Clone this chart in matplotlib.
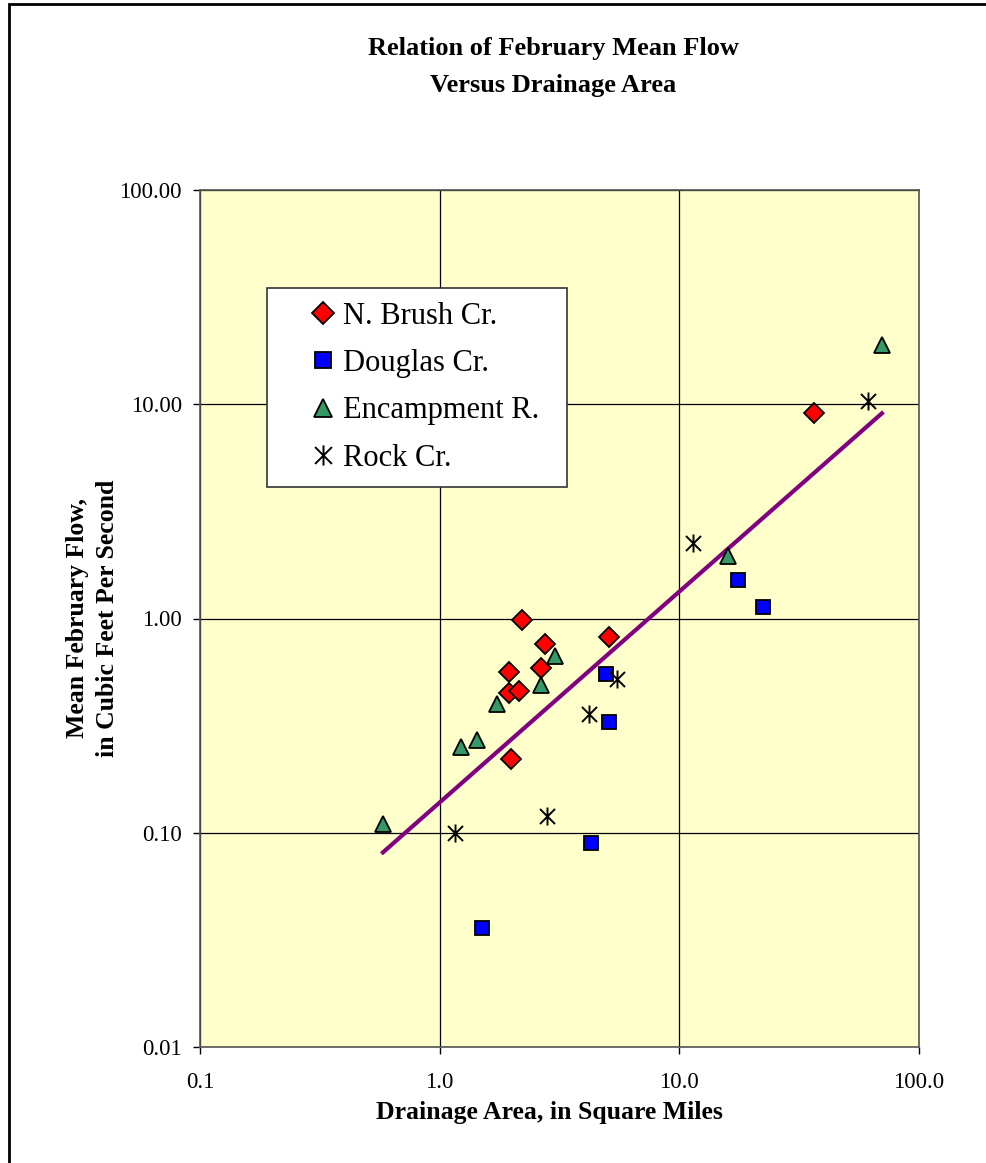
import matplotlib.pyplot as plt
from matplotlib.path import Path
from matplotlib.patches import Rectangle

plt.rcParams['font.family'] = ['Liberation Serif', 'DejaVu Serif']

# data (drainage area sq mi, mean Feb flow cfs)
brush_x = [2.2, 5.1, 2.75, 1.95, 2.65, 1.95, 2.15, 1.98, 36.5]
brush_y = [0.98, 0.82, 0.76, 0.56, 0.585, 0.45, 0.46, 0.22, 9.1]

douglas_x = [4.93, 5.1, 4.3, 1.5, 17.5, 22.4]
douglas_y = [0.55, 0.33, 0.09, 0.036, 1.52, 1.13]

encamp_x = [3.03, 2.65, 1.73, 1.43, 1.23, 0.58, 70.0, 16.0]
encamp_y = [0.67, 0.49, 0.40, 0.27, 0.25, 0.11, 19.0, 1.96]

rock_x = [5.5, 4.2, 2.8, 1.16, 11.4, 61.0]
rock_y = [0.52, 0.36, 0.12, 0.10, 2.26, 10.4]

trend_x = [0.58, 70.0]
trend_y = [0.081, 9.07]

x_ticks = [0.1, 1, 10, 100]
x_labels = ["0.1", "1.0", "10.0", "100.0"]
y_ticks = [0.01, 0.1, 1, 10, 100]
y_labels = ["0.01", "0.10", "1.00", "10.00", "100.00"]

fig = plt.figure(figsize=(9.87, 11.63), dpi=100)
ax = fig.add_axes([200 / 987, 1 - 1047 / 1163, 719 / 987, 857 / 1163])
ax.set_facecolor("#FFFFCC")

# outer frame (only left and top edges are visible in the original)
fig.patches.append(Rectangle((9 / 987, -0.05), 1.2, 1 - 4 / 1163 + 0.05,
                             transform=fig.transFigure, fill=False,
                             edgecolor="black", linewidth=2))

star = Path([(-1, -1), (1, 1), (-1, 1), (1, -1), (0, -1.2), (0, 1.2)],
            [Path.MOVETO, Path.LINETO, Path.MOVETO, Path.LINETO,
             Path.MOVETO, Path.LINETO])

ax.plot(trend_x, trend_y, color="#800080", linewidth=3, zorder=2)
ax.plot(brush_x, brush_y, linestyle="none", marker="D", ms=10,
        mfc="red", mec="black", mew=1.3, label="N. Brush Cr.", zorder=3)
ax.plot(douglas_x, douglas_y, linestyle="none", marker="s", ms=10.5,
        mfc="blue", mec="black", mew=1.3, label="Douglas Cr.", zorder=3)
ax.plot(encamp_x, encamp_y, linestyle="none", marker="^", ms=12,
        mfc="#339966", mec="black", mew=1.3, label="Encampment R.", zorder=3)
ax.plot(rock_x, rock_y, linestyle="none", marker=star, ms=13,
        mfc="none", mec="black", mew=1.4, label="Rock Cr.", zorder=3)

ax.set_xscale("log")
ax.set_yscale("log")
ax.set_xlim(0.1, 100)
ax.set_ylim(0.01, 100)
ax.set_xticks(x_ticks)
ax.set_xticklabels(x_labels)
ax.set_yticks(y_ticks)
ax.set_yticklabels(y_labels)
ax.minorticks_off()
ax.tick_params(direction="out", length=5, width=1, labelsize=16.5)
ax.tick_params(axis="x", pad=13)
ax.tick_params(axis="y", pad=8)
ax.grid(True, color="black", linewidth=0.9)
ax.set_axisbelow(True)
for s in ax.spines.values():
    s.set_color("#555555")
    s.set_linewidth(1.2)

ax.set_xlabel("Drainage Area, in Square Miles", fontsize=18.5,
              fontweight="bold", labelpad=6)
ax.xaxis.label.set_x((549.5 - 200) / 719)
ax.set_ylabel("Mean February Flow,\nin Cubic Feet Per Second", fontsize=18.5,
              fontweight="bold", labelpad=0, linespacing=1.4)

fig.text(553 / 987, 1 - 67 / 1163,
         "Relation of February Mean Flow\nVersus Drainage Area",
         ha="center", va="center", fontsize=19, fontweight="bold",
         linespacing=1.8)

leg = ax.legend(loc="upper left",
                bbox_to_anchor=(0.093, 1 - 297 / 857, 300 / 719, 199 / 857),
                mode="expand", fontsize=22, frameon=True, fancybox=False,
                borderpad=0.45, labelspacing=0.6, handletextpad=-0.7,
                handlelength=2.75, borderaxespad=0, markerscale=1.12)
leg.get_frame().set_edgecolor("#333333")
leg.get_frame().set_linewidth(1.2)
leg.get_frame().set_facecolor("white")
leg.get_frame().set_alpha(1)

fig.savefig("out.png", dpi=100)
